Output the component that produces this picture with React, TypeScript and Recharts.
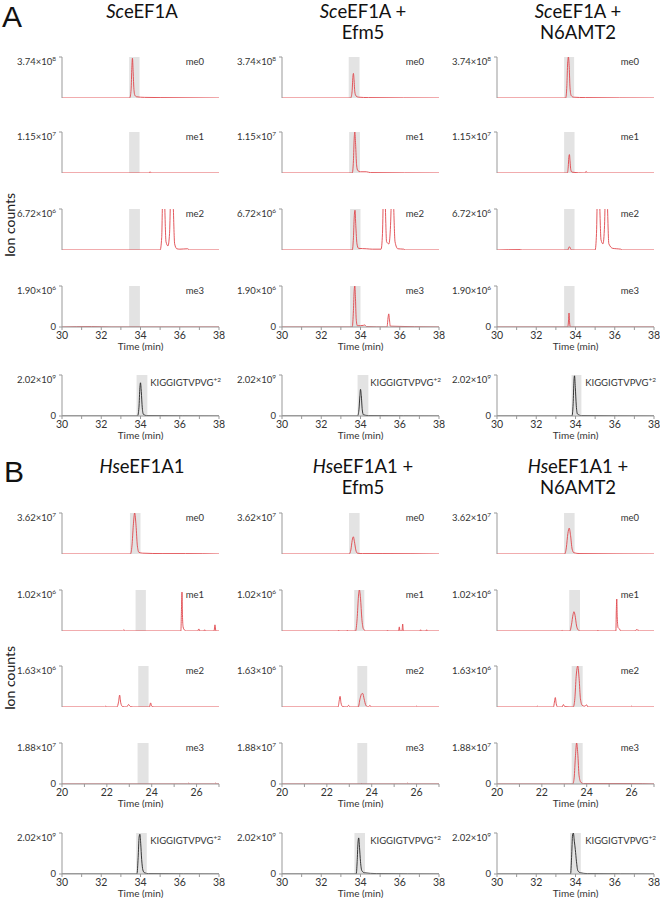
import React from "react";
import { LineChart, Line, XAxis, YAxis, ReferenceArea } from "recharts";

type Pt = [number, number];

// y values are fractions of each panel's axis maximum
const sceMe0: Pt[] = [[30,0],[33.45,0],[33.52,0.2],[33.56,0.75],[33.59,0.97],[33.62,0.7],[33.66,0.25],[33.71,0.07],[33.8,0.03],[34.2,0.015],[35,0.01],[38,0]];
const sceMe1: Pt[] = [[30,0],[34.44,0],[34.49,0.03],[34.54,0],[38,0]];
const sceMe2: Pt[] = [[30,0],[35.0,0],[35.08,0.3],[35.13,1.4],[35.17,1.8],[35.22,1.3],[35.3,0.2],[35.4,0.1],[35.48,0.4],[35.55,1.6],[35.6,1.8],[35.66,1.2],[35.74,0.15],[35.85,0.03],[36.0,0.02],[36.4,0.03],[36.5,0],[38,0]];
const sceMe3: Pt[] = [[30,0],[31.5,0.01],[32.5,0],[38,0]];
const sceKigg: Pt[] = [[30,0],[33.85,0],[33.92,0.2],[33.97,0.7],[34.0,0.81],[34.04,0.6],[34.09,0.2],[34.15,0.04],[34.3,0.01],[38,0]];

const efmMe0: Pt[] = [[30,0],[33.5,0],[33.57,0.15],[33.61,0.5],[33.64,0.6],[33.67,0.45],[33.71,0.15],[33.77,0.05],[33.9,0.02],[34.4,0.01],[38,0]];
const efmMe1: Pt[] = [[30,0],[33.58,0],[33.64,0.3],[33.68,0.85],[33.71,1.0],[33.75,0.7],[33.8,0.2],[33.86,0.06],[34.0,0.03],[34.3,0.03],[34.5,0.01],[38,0]];
const efmMe2: Pt[] = [[30,0],[33.58,0],[33.64,0.3],[33.68,0.8],[33.72,0.97],[33.76,0.6],[33.82,0.15],[33.9,0.04],[34.3,0.03],[34.6,0.02],[35.05,0.02],[35.12,0.4],[35.17,1.5],[35.2,1.8],[35.25,1.3],[35.33,0.2],[35.45,0.15],[35.53,0.6],[35.6,1.6],[35.63,1.8],[35.68,1.2],[35.76,0.2],[35.9,0.03],[36.2,0.02],[36.3,0],[38,0]];
const efmMe3: Pt[] = [[30,0],[33.58,0],[33.64,0.4],[33.68,0.9],[33.71,1.0],[33.74,0.75],[33.78,0.2],[33.84,0.03],[34.15,0.04],[34.22,0.05],[34.3,0.01],[35.35,0],[35.41,0.25],[35.44,0.32],[35.47,0.2],[35.52,0.02],[38,0]];
const efmKigg: Pt[] = [[30,0],[33.85,0],[33.92,0.15],[33.97,0.5],[34.0,0.65],[34.04,0.5],[34.09,0.15],[34.15,0.03],[34.4,0.01],[38,0]];

const n6Me0: Pt[] = [[30,0],[33.5,0],[33.56,0.3],[33.6,0.85],[33.64,1.0],[33.68,0.75],[33.72,0.25],[33.78,0.06],[33.9,0.02],[34.5,0.01],[38,0]];
const n6Me1: Pt[] = [[30,0],[33.58,0],[33.63,0.15],[33.66,0.38],[33.69,0.45],[33.72,0.3],[33.76,0.08],[33.82,0.02],[34.48,0],[34.54,0.04],[34.6,0],[38,0]];
const n6Me2: Pt[] = [[30,0],[31.2,0.01],[31.3,0],[33.6,0],[33.66,0.06],[33.69,0.08],[33.73,0.05],[33.8,0],[35.0,0],[35.07,0.4],[35.12,1.5],[35.17,1.8],[35.22,1.3],[35.3,0.25],[35.4,0.15],[35.48,0.6],[35.53,1.6],[35.57,1.8],[35.62,1.2],[35.7,0.15],[35.9,0.04],[36.1,0.03],[36.3,0.02],[36.4,0],[38,0]];
const n6Me3: Pt[] = [[30,0],[33.6,0],[33.64,0.12],[33.67,0.34],[33.7,0.1],[33.74,0],[38,0]];
const n6Kigg: Pt[] = [[30,0],[33.82,0],[33.88,0.3],[33.92,0.85],[33.95,0.98],[33.99,0.7],[34.04,0.25],[34.1,0.05],[34.3,0.01],[38,0]];

const hseMe0: Pt[] = [[20,0],[23.05,0],[23.12,0.2],[23.18,0.7],[23.24,1.0],[23.3,0.7],[23.36,0.2],[23.43,0.04],[23.6,0.02],[24.5,0.01],[25.5,0.01],[27,0]];
const hseMe1: Pt[] = [[20,0],[22.7,0],[22.76,0.03],[22.82,0],[25.3,0],[25.33,0.6],[25.35,0.95],[25.37,0.4],[25.4,0.1],[25.45,0.03],[25.55,0],[26.05,0],[26.1,0.05],[26.15,0],[26.33,0],[26.36,0.03],[26.4,0],[26.78,0],[26.82,0.15],[26.86,0],[27,0]];
const hseMe2: Pt[] = [[20,0],[21.9,0],[21.95,0.02],[22.0,0],[22.45,0],[22.52,0.12],[22.57,0.29],[22.62,0.1],[22.7,0.01],[22.88,0],[22.97,0.06],[23.05,0.01],[23.2,0],[23.9,0],[23.95,0.1],[24.0,0.02],[24.1,0],[27,0]];
const hseMe3: Pt[] = [[20,0],[25.6,0],[25.65,0.02],[25.7,0],[26.8,0],[26.85,0.02],[26.9,0],[27,0]];
const hseKigg: Pt[] = [[30,0],[33.82,0],[33.88,0.4],[33.93,0.9],[33.97,0.97],[34.01,0.75],[34.06,0.35],[34.12,0.1],[34.2,0.03],[34.4,0.01],[38,0]];

const hEfmMe0: Pt[] = [[20,0],[23.0,0],[23.07,0.1],[23.13,0.33],[23.18,0.42],[23.23,0.3],[23.29,0.1],[23.36,0.02],[23.6,0.01],[24.5,0.01],[27,0]];
const hEfmMe1: Pt[] = [[20,0],[22.5,0],[22.53,0.02],[22.56,0],[22.88,0],[22.91,0.02],[22.94,0],[23.28,0],[23.35,0.3],[23.41,0.85],[23.45,1.0],[23.5,0.8],[23.56,0.3],[23.63,0.05],[23.75,0],[24.68,0],[24.71,0.02],[24.74,0],[25.2,0],[25.23,0.1],[25.26,0],[25.35,0],[25.38,0.17],[25.41,0],[26.15,0],[26.18,0.03],[26.21,0],[26.42,0],[26.45,0.03],[26.48,0],[27,0]];
const hEfmMe2: Pt[] = [[20,0],[22.5,0],[22.55,0.15],[22.59,0.26],[22.63,0.1],[22.7,0.01],[22.9,0],[22.97,0.04],[23.04,0],[23.4,0],[23.48,0.2],[23.55,0.32],[23.6,0.33],[23.66,0.2],[23.74,0.04],[23.85,0],[23.92,0.04],[23.98,0],[25.95,0],[26.0,0.02],[26.05,0],[27,0]];
const hEfmMe3: Pt[] = [[20,0],[23.5,0],[23.55,0.01],[23.6,0],[25.55,0],[25.6,0.02],[25.65,0],[27,0]];
const hEfmKigg: Pt[] = [[30,0],[33.78,0],[33.83,0.3],[33.87,0.75],[33.91,0.88],[33.95,0.65],[34.0,0.3],[34.07,0.08],[34.2,0.03],[34.8,0.01],[38,0]];

const hN6Me0: Pt[] = [[20,0],[23.02,0],[23.09,0.15],[23.16,0.5],[23.22,0.63],[23.28,0.45],[23.35,0.12],[23.43,0.03],[23.7,0.01],[27,0]];
const hN6Me1: Pt[] = [[20,0],[22.86,0],[22.9,0.02],[22.94,0],[23.25,0],[23.32,0.15],[23.39,0.4],[23.43,0.47],[23.48,0.38],[23.55,0.12],[23.63,0.02],[23.7,0],[24.47,0],[24.5,0.02],[24.53,0],[25.3,0],[25.32,0.5],[25.34,0.78],[25.36,0.35],[25.4,0.08],[25.46,0.05],[25.52,0],[26.15,0],[26.2,0.03],[26.3,0.02],[26.35,0],[27,0]];
const hN6Me2: Pt[] = [[20,0],[21.75,0],[21.8,0.02],[21.85,0],[22.52,0],[22.56,0.12],[22.6,0.23],[22.64,0.08],[22.7,0],[22.9,0],[22.96,0.06],[23.02,0.01],[23.4,0],[23.47,0.2],[23.53,0.75],[23.6,1.0],[23.66,0.7],[23.72,0.2],[23.8,0.04],[23.9,0.02],[24.0,0.05],[24.06,0],[25.95,0],[26.0,0.02],[26.05,0],[27,0]];
const hN6Me3: Pt[] = [[20,0],[23.38,0],[23.44,0.15],[23.5,0.7],[23.55,1.0],[23.6,0.75],[23.66,0.2],[23.74,0.04],[23.85,0.01],[26.0,0.01],[27,0]];
const hN6Kigg: Pt[] = [[30,0],[33.75,0],[33.8,0.4],[33.85,0.95],[33.89,1.0],[33.94,0.8],[33.99,0.6],[34.05,0.3],[34.12,0.08],[34.25,0.03],[34.6,0.01],[38,0]];

// axis maxima: [mantissa, exponent]
const maxA: [string, string][] = [["3.74", "8"], ["1.15", "7"], ["6.72", "6"], ["1.90", "6"], ["2.02", "9"]];
const maxB: [string, string][] = [["3.62", "7"], ["1.02", "6"], ["1.63", "6"], ["1.88", "7"], ["2.02", "9"]];
const rowLabels = ["me0", "me1", "me2", "me3", "KIGG"];

const ticksA = [30, 31, 32, 33, 34, 35, 36, 37, 38];
const ticksB = [20, 21, 22, 23, 24, 25, 26, 27];

// shaded retention windows per row, per column
const shadeA: [number, number][][] = [
  [[33.42, 33.95], [33.42, 33.95], [33.42, 33.97], [33.42, 33.97], [33.8, 34.35]],
  [[33.4, 33.95], [33.42, 33.97], [33.47, 34.0], [33.47, 34.0], [33.85, 34.4]],
  [[33.42, 33.93], [33.42, 33.95], [33.42, 33.95], [33.42, 33.95], [33.8, 34.3]],
];
const shadeB: [number, number][][] = [
  [[23.03, 23.5], [23.28, 23.74], [23.4, 23.86], [23.37, 23.86], [33.78, 34.32]],
  [[22.99, 23.46], [23.22, 23.67], [23.36, 23.8], [23.36, 23.8], [33.69, 34.23]],
  [[22.99, 23.46], [23.22, 23.7], [23.33, 23.82], [23.33, 23.82], [33.72, 34.27]],
];

const seriesA = [
  [sceMe0, sceMe1, sceMe2, sceMe3, sceKigg],
  [efmMe0, efmMe1, efmMe2, efmMe3, efmKigg],
  [n6Me0, n6Me1, n6Me2, n6Me3, n6Kigg],
];
const seriesB = [
  [hseMe0, hseMe1, hseMe2, hseMe3, hseKigg],
  [hEfmMe0, hEfmMe1, hEfmMe2, hEfmMe3, hEfmKigg],
  [hN6Me0, hN6Me1, hN6Me2, hN6Me3, hN6Kigg],
];

const colX = [62, 282, 497];
const rowYA = [57, 132, 209, 286, 375];
const rowYB = [513, 590, 666, 743, 833];
const PW = 157;
const PH = 41;
const YW = 58;
const RM = 10;
const XH = 23;
const font = "Lato, 'Open Sans', sans-serif";

function Panel({ x, y, pts, max, label, shade, domain, ticks, showX, color }: any) {
  const data = pts.map(([t, v]: Pt) => ({ t, v }));
  const w = YW + PW + RM;
  const h = 4 + PH + (showX ? XH : 0) + 1;
  const isKigg = label === "KIGG";
  const yTick = (p: any) => {
    const v = p.payload.value;
    return (
      <text x={p.x - 1} y={p.y} dy={3} textAnchor="end" fontSize={9.5} fill="#333" fontFamily={font}>
        {v === 0 ? "0" : (
          <>
            {max[0]}×10<tspan dy={-4} fontSize={6.5}>{max[1]}</tspan>
          </>
        )}
      </text>
    );
  };
  return (
    <div style={{ position: "absolute", left: x - YW, top: y - 4, width: w, height: h }}>
      <LineChart width={w} height={h} data={data} margin={{ top: 4, right: RM, bottom: 1, left: 0 }}>
        <ReferenceArea x1={shade[0]} x2={shade[1]} y1={0} y2={1} fill="#e3e3e3" fillOpacity={1} stroke="none" />
        <XAxis
          type="number"
          dataKey="t"
          domain={domain}
          ticks={ticks}
          hide={!showX}
          height={XH}
          stroke="#999"
          tickSize={3}
          interval={0}
          tick={{ fontSize: 10.5, fill: "#333", fontFamily: font }}
          tickFormatter={(v: number) => (v % 2 === 0 ? String(v) : "")}
          label={{ value: "Time (min)", position: "insideBottom", offset: 0, fontSize: 10, fill: "#333", fontFamily: font }}
        />
        <YAxis
          type="number"
          domain={[0, 1]}
          ticks={[0, 1]}
          allowDataOverflow
          width={YW}
          stroke="#999"
          tickSize={3}
          tick={yTick}
        />
        <Line type="monotone" dataKey="v" stroke={color} strokeWidth={0.9} dot={false} isAnimationActive={false} />
      </LineChart>
      <div
        style={{
          position: "absolute",
          top: 3,
          right: isKigg ? RM - 2 : RM + 15,
          fontSize: 9.5,
          lineHeight: "12px",
          color: "#333",
          fontFamily: font,
          whiteSpace: "nowrap",
        }}
      >
        {isKigg ? (
          <>
            KIGGIGTVPVG<span style={{ fontSize: 6.5, verticalAlign: "4px" }}>+2</span>
          </>
        ) : (
          label
        )}
      </div>
    </div>
  );
}

function Title({ cx, top, lines }: { cx: number; top: number; lines: React.ReactNode[] }) {
  return (
    <div
      style={{
        position: "absolute",
        left: cx - 100,
        width: 200,
        top,
        textAlign: "center",
        fontSize: 18.5,
        lineHeight: "21px",
        color: "#111",
        fontFamily: font,
      }}
    >
      {lines.map((l, i) => (
        <div key={i}>{l}</div>
      ))}
    </div>
  );
}

function Section({ rows, maxes, series, shades, xDomain, xTicks }: any) {
  return (
    <>
      {colX.map((cx, c) =>
        rows.map((ry: number, r: number) => {
          const kigg = r === 4;
          return (
            <Panel
              key={`${c}-${r}`}
              x={cx}
              y={ry}
              pts={series[c][r]}
              max={maxes[r]}
              label={rowLabels[r]}
              shade={shades[c][r]}
              domain={kigg ? [30, 38] : xDomain}
              ticks={kigg ? ticksA : xTicks}
              showX={r >= 3}
              color={kigg ? "#222" : "#e0454b"}
            />
          );
        })
      )}
    </>
  );
}

export default function App() {
  return (
    <div style={{ position: "absolute", left: 0, top: 0, width: 660, height: 899, background: "#fff", overflow: "hidden" }}>
      <div style={{ position: "absolute", left: 2, top: 0, fontSize: 30, lineHeight: "34px", fontFamily: "'Liberation Sans', Arial", color: "#111" }}>A</div>
      <div style={{ position: "absolute", left: 4, top: 455, fontSize: 30, lineHeight: "34px", fontFamily: "'Liberation Sans', Arial", color: "#111" }}>B</div>

      <Title cx={142} top={1} lines={[<><i>Sc</i>eEF1A</>]} />
      <Title cx={363} top={1} lines={[<><i>Sc</i>eEF1A +</>, "Efm5"]} />
      <Title cx={578} top={1} lines={[<><i>Sc</i>eEF1A +</>, "N6AMT2"]} />
      <Title cx={142} top={456} lines={[<><i>Hs</i>eEF1A1</>]} />
      <Title cx={363} top={456} lines={[<><i>Hs</i>eEF1A1 +</>, "Efm5"]} />
      <Title cx={578} top={456} lines={[<><i>Hs</i>eEF1A1 +</>, "N6AMT2"]} />

      {[225, 678].map((cy) => (
        <div
          key={cy}
          style={{
            position: "absolute",
            left: 10 - 40,
            top: cy - 10,
            width: 80,
            height: 20,
            lineHeight: "20px",
            textAlign: "center",
            transform: "rotate(-90deg)",
            fontSize: 14,
            color: "#222",
            fontFamily: font,
          }}
        >
          Ion counts
        </div>
      ))}

      <Section rows={rowYA} maxes={maxA} series={seriesA} shades={shadeA} xDomain={[30, 38]} xTicks={ticksA} />
      <Section rows={rowYB} maxes={maxB} series={seriesB} shades={shadeB} xDomain={[20, 27]} xTicks={ticksB} />
    </div>
  );
}
